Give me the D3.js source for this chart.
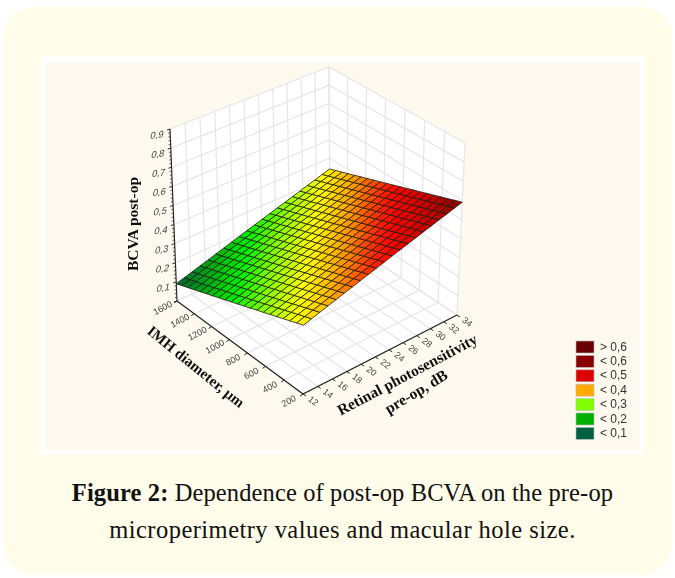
<!DOCTYPE html>
<html><head><meta charset="utf-8">
<script src="https://cdnjs.cloudflare.com/ajax/libs/d3/7.8.5/d3.min.js"></script>
<style>html,body{margin:0;padding:0;background:#fff}svg{display:block}</style></head>
<body><svg id="c" width="675" height="578"></svg>
<script>
const xTicks=[12,14,16,18,20,22,24,26,28,30,32,34];
const imhTicks=[1600,1400,1200,1000,800,600,400,200];
const zTicks=[0.1,0.2,0.3,0.4,0.5,0.6,0.7,0.8,0.9];
const legendLabels=["> 0,6","< 0,6","< 0,5","< 0,4","< 0,3","< 0,2","< 0,1"];
const legendColors=["#6b0000","#8a0000","#dd0000","#ffaa00","#80ff00","#00b000","#006040"];
// surface values: rows run IMH 1600 -> 200, columns run photosensitivity 12 -> 34
const surfaceRows=[
[.090,.103,.115,.128,.140,.153,.165,.178,.190,.203,.215,.228,.240,.253,.265,.278,.290,.303,.315,.328,.340],
[.103,.115,.128,.140,.153,.165,.178,.190,.203,.215,.228,.240,.253,.265,.278,.290,.303,.315,.328,.340,.353],
[.115,.128,.140,.153,.165,.178,.190,.203,.215,.228,.240,.253,.265,.278,.290,.303,.315,.328,.340,.353,.365],
[.128,.140,.153,.165,.178,.190,.203,.215,.228,.240,.253,.265,.278,.290,.303,.315,.328,.340,.353,.365,.378],
[.140,.153,.165,.178,.190,.203,.215,.228,.240,.253,.265,.278,.290,.303,.315,.328,.340,.353,.365,.378,.390],
[.153,.165,.178,.190,.203,.215,.228,.240,.253,.265,.278,.290,.303,.315,.328,.340,.353,.365,.378,.390,.403],
[.165,.178,.190,.203,.215,.228,.240,.253,.265,.278,.290,.303,.315,.328,.340,.353,.365,.378,.390,.403,.415],
[.178,.190,.203,.215,.228,.240,.253,.265,.278,.290,.303,.315,.328,.340,.353,.365,.378,.390,.403,.415,.428],
[.190,.203,.215,.228,.240,.253,.265,.278,.290,.303,.315,.328,.340,.353,.365,.378,.390,.403,.415,.428,.440],
[.203,.215,.228,.240,.253,.265,.278,.290,.303,.315,.328,.340,.353,.365,.378,.390,.403,.415,.428,.440,.453],
[.215,.228,.240,.253,.265,.278,.290,.303,.315,.328,.340,.353,.365,.378,.390,.403,.415,.428,.440,.453,.465],
[.228,.240,.253,.265,.278,.290,.303,.315,.328,.340,.353,.365,.378,.390,.403,.415,.428,.440,.453,.465,.478],
[.240,.253,.265,.278,.290,.303,.315,.328,.340,.353,.365,.378,.390,.403,.415,.428,.440,.453,.465,.478,.490],
[.253,.265,.278,.290,.303,.315,.328,.340,.353,.365,.378,.390,.403,.415,.428,.440,.453,.465,.478,.490,.503],
[.265,.278,.290,.303,.315,.328,.340,.353,.365,.378,.390,.403,.415,.428,.440,.453,.465,.478,.490,.503,.515],
[.278,.290,.303,.315,.328,.340,.353,.365,.378,.390,.403,.415,.428,.440,.453,.465,.478,.490,.503,.515,.528],
[.290,.303,.315,.328,.340,.353,.365,.378,.390,.403,.415,.428,.440,.453,.465,.478,.490,.503,.515,.528,.540],
[.303,.315,.328,.340,.353,.365,.378,.390,.403,.415,.428,.440,.453,.465,.478,.490,.503,.515,.528,.540,.553],
[.315,.328,.340,.353,.365,.378,.390,.403,.415,.428,.440,.453,.465,.478,.490,.503,.515,.528,.540,.553,.565],
[.328,.340,.353,.365,.378,.390,.403,.415,.428,.440,.453,.465,.478,.490,.503,.515,.528,.540,.553,.565,.578],
[.340,.353,.365,.378,.390,.403,.415,.428,.440,.453,.465,.478,.490,.503,.515,.528,.540,.553,.565,.578,.590]
];
const colorStops=[.09,.13,.18,.21,.27,.33,.37,.40,.44,.47,.54,.60];
const colorRamp=["#005f30","#009020","#00d000","#00f000","#90ff00","#ffff00","#ffc000","#ff8800","#ff3000","#ff0000","#c00000","#780000"];

const svg=d3.select("#c");
const fill=d3.scaleLinear().domain(colorStops).range(colorRamp).clamp(true);
const uScale=d3.scaleLinear().domain([12,34]).range([0,1]);
const vScale=d3.scaleLinear().domain([1600,200]).range([0,1]);
const zScale=d3.scaleLinear().domain([0,0.9]).range([0,1]);

function homography(q){
  const [[x0,y0],[x1,y1],[x2,y2],[x3,y3]]=q;
  const dx1=x1-x2,dx2=x3-x2,sx=x0-x1+x2-x3,dy1=y1-y2,dy2=y3-y2,sy=y0-y1+y2-y3;
  const den=dx1*dy2-dx2*dy1,g=(sx*dy2-dx2*sy)/den,h=(dx1*sy-sx*dy1)/den;
  const a=x1-x0+g*x1,b=x3-x0+h*x3,d=y1-y0+g*y1,e=y3-y0+h*y3;
  return (u,v)=>{const w=g*u+h*v+1;return [(a*u+b*v+x0)/w,(d*u+e*v+y0)/w];};
}
const floorH=homography([[177,301],[330,231],[457,315],[303,394]]);
const topH=homography([[170,129],[329,67],[465,143],[304,212]]);
function proj(x,imh,z){
  const u=uScale(x),v=vScale(imh),t=zScale(z);
  const a=floorH(u,v),b=topH(u,v);
  return [a[0]+(b[0]-a[0])*t,a[1]+(b[1]-a[1])*t];
}
const line=d3.line();
const path=(pts,stroke,w,parent)=>parent.append("path").attr("d",line(pts)).attr("fill","none").attr("stroke",stroke).attr("stroke-width",w);

// page
svg.append("rect").attr("x",3.5).attr("y",7).attr("width",669).attr("height",568).attr("rx",30).attr("fill","#fffce9");
svg.append("rect").attr("x",41).attr("y",56).attr("width",603).attr("height",398).attr("fill","#ffffff");
svg.append("rect").attr("x",45).attr("y",63).attr("width",595).attr("height",387).attr("fill","#fef9ef");

const defs=svg.append("defs");
defs.append("filter").attr("id","soft").append("feGaussianBlur").attr("stdDeviation",0.4);
const g=svg.append("g").attr("filter","url(#soft)");

const [x0,x1]=[12,34],[i0,i1]=[1600,200],zMax=0.9;
// walls and floor
const poly=pts=>g.append("path").attr("d",line(pts)+"Z").attr("fill","#fff");
poly([proj(x0,i0,0),proj(x1,i0,0),proj(x1,i1,0),proj(x0,i1,0)]);
poly([proj(x0,i0,0),proj(x1,i0,0),proj(x1,i0,zMax),proj(x0,i0,zMax)]);
poly([proj(x1,i0,0),proj(x1,i1,0),proj(x1,i1,zMax),proj(x1,i0,zMax)]);
const grid="#e6e6e6";
xTicks.forEach(x=>{path([proj(x,i0,0),proj(x,i0,zMax)],grid,1.2,g);path([proj(x,i0,0),proj(x,i1,0)],grid,1.2,g);});
imhTicks.forEach(m=>{path([proj(x1,m,0),proj(x1,m,zMax)],grid,1.2,g);path([proj(x0,m,0),proj(x1,m,0)],grid,1.2,g);});
zTicks.forEach(z=>{path([proj(x0,i0,z),proj(x1,i0,z),proj(x1,i1,z)],grid,1.2,g);});
path([proj(x0,i0,0),proj(x1,i0,0),proj(x1,i1,0)],grid,1.2,g);

// surface mesh
const xStep=d3.scaleLinear().domain([0,surfaceRows[0].length-1]).range([x0,x1]);
const mStep=d3.scaleLinear().domain([0,surfaceRows.length-1]).range([i0,i1]);
const cells=[];
for(let j=0;j<surfaceRows.length-1;j++)for(let i=0;i<surfaceRows[0].length-1;i++)cells.push({i,j});
g.append("g").selectAll("path").data(cells).join("path")
 .attr("d",c=>line([[c.i,c.j],[c.i+1,c.j],[c.i+1,c.j+1],[c.i,c.j+1]].map(([a,b])=>proj(xStep(a),mStep(b),surfaceRows[b][a])))+"Z")
 .attr("fill",c=>fill(d3.mean([surfaceRows[c.j][c.i],surfaceRows[c.j][c.i+1],surfaceRows[c.j+1][c.i],surfaceRows[c.j+1][c.i+1]])))
 .attr("stroke","#1c1c10").attr("stroke-width",0.8).attr("stroke-linejoin","round");

// axes
const ink="#222";
path([proj(x0,i0,0),proj(x0,i0,zMax)],ink,1.1,g);
path([proj(x0,i0,0),proj(x0,i1,0),proj(x1,i1,0)],ink,1.1,g);
zTicks.concat([0]).forEach(z=>{const p=proj(x0,i0,z);path([p,[p[0]-3,p[1]+1]],ink,1,g);
  if(z<zMax)d3.range(1,5).forEach(k=>{const q=proj(x0,i0,z+k*0.02);path([q,[q[0]-2,q[1]+.5]],ink,.7,g);});});
imhTicks.forEach(m=>{const p=proj(x0,m,0);path([p,[p[0]-3,p[1]+2]],ink,1,g);});
xTicks.forEach(x=>{const p=proj(x,i1,0);path([p,[p[0]+3,p[1]+2]],ink,1,g);});

const sans="'Liberation Sans',Arial,sans-serif",serif="'Liberation Serif','Times New Roman',serif";
const tick=(t,p,dx,dy,tr,s)=>g.append("text").text(t).attr("text-anchor","middle").attr("dominant-baseline","middle")
  .attr("transform",`translate(${p[0]+dx},${p[1]+dy}) ${tr}`).attr("font-family",sans).attr("font-size",s).attr("fill","#444");
zTicks.forEach(z=>tick(String(z).replace(".",","),proj(x0,i0,z),-13,6.5,"skewY(-8) skewX(-12)",9.5));
imhTicks.forEach(m=>tick(m,proj(x0,m,0),-14,7.5,"rotate(-28)",9));
xTicks.forEach(x=>tick(x,proj(x,i1,0),10,7.5,"rotate(38)",9));

const title=(t,x,y,r,s)=>g.append("text").text(t).attr("text-anchor","middle").attr("dominant-baseline","middle")
  .attr("transform",`translate(${x},${y}) rotate(${r})`).attr("font-family",serif).attr("font-weight","bold").attr("font-size",s).attr("fill","#111");
title("BCVA post-op",134,224,-90,15.5);
title("IMH diameter, µm",195,368,39,15);
title("Retinal photosensitivity",408,376,-28,15.5);
title("pre-op, dB",417,393,-31,15.5);

// legend
const leg=g.append("g").selectAll("g").data(legendLabels).join("g").attr("transform",(d,k)=>`translate(576,${347+k*14.4})`);
leg.append("rect").attr("x",0).attr("y",-6).attr("width",18).attr("height",12).attr("fill",(d,k)=>legendColors[k]).attr("stroke","#bbb").attr("stroke-width",.6);
leg.append("text").text(d=>d).attr("x",24).attr("y",0.5).attr("dominant-baseline","middle").attr("font-family",sans).attr("font-size",12).attr("fill","#333");

// caption
const cap=svg.append("g").attr("font-family","'Liberation Serif','Times New Roman',serif").attr("font-size",24.5).attr("fill","#111").attr("text-anchor","middle");
const l1=cap.append("text").attr("x",342.5).attr("y",501).attr("letter-spacing",.12);
l1.append("tspan").attr("font-weight","bold").text("Figure 2:");
l1.append("tspan").text(" Dependence of post-op BCVA on the pre-op");
cap.append("text").attr("x",342.5).attr("y",538).attr("letter-spacing",.46).text("microperimetry values and macular hole size.");
</script></body></html>
